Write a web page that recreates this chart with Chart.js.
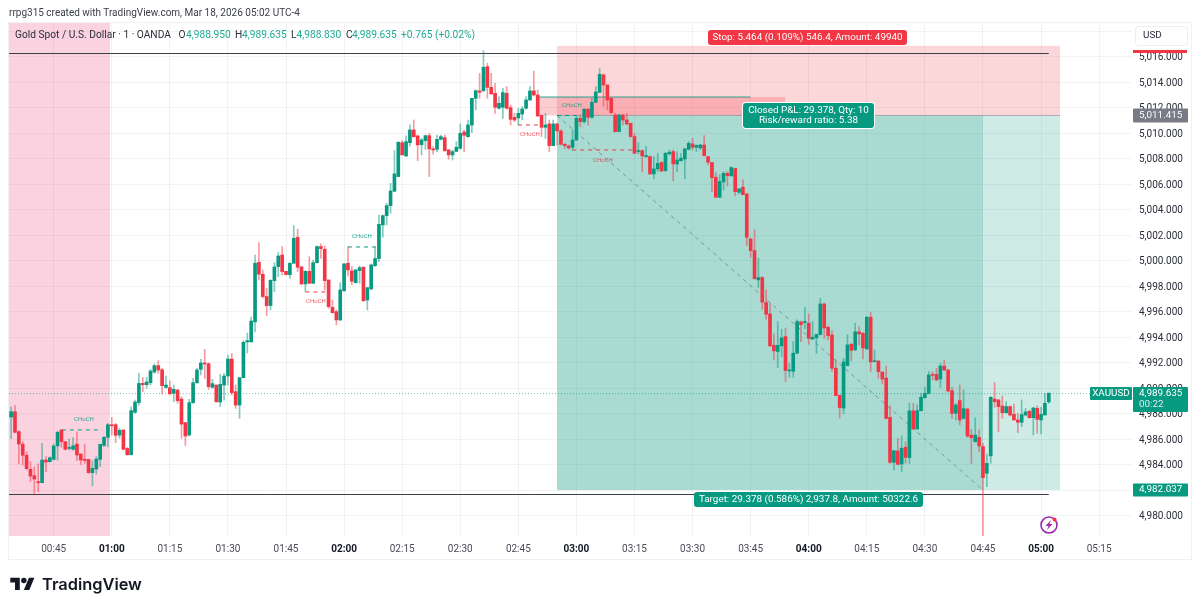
<!DOCTYPE html>
<html>
<head>
<meta charset="utf-8">
<title>Gold Spot / U.S. Dollar</title>
<script src="https://cdn.jsdelivr.net/npm/chart.js@4"></script>
<style>
  html, body { margin: 0; padding: 0; background: #fff; overflow: hidden; }
  #wrap { position: relative; width: 1200px; height: 609px; }
  #title { position: absolute; left: 9px; top: 7px; font: 10px Roboto, sans-serif; color: #3a3d46; white-space: nowrap; }
  #logo { position: absolute; left: 10px; top: 575px; }
  #brand { position: absolute; left: 42px; top: 574px; font: 600 16.4px Inter, sans-serif; color: #131722; }
</style>
</head>
<body>
<div id="wrap">
  <canvas id="chart" width="1200" height="609"></canvas>
  <div id="title">rrpg315 created with TradingView.com, Mar 18, 2026 05:02 UTC-4</div>
  <svg id="logo" width="25" height="19" viewBox="0 0 36 28"><path fill="#131722" d="M14 22H7V11H0V4h14v18zM28 22h-8l7.5-18h8L28 22z"/><circle fill="#131722" cx="20" cy="8" r="4"/></svg>
  <div id="brand">TradingView</div>
</div>
<script>
const firstMinute = 34; // 00:34, one bar a minute
const opens = [
  4987.76,4988.18,4986.61,4985.64,4984.76,4983.66,4983.16,4982.66,4982.61,4984.39,
  4984.26,4984.44,4985.49,4986.74,4985.83,4985.30,4985.23,4985.64,4984.86,4984.44,
  4984.44,4983.40,4983.68,4984.44,4985.54,4986.17,4987.13,4987.16,4986.35,4986.74,
  4985.30,4984.81,4988.13,4988.89,4990.40,4990.30,4990.45,4991.29,4991.79,4991.47,
  4990.09,4990.06,4989.62,4989.88,4989.17,4987.32,4986.35,4988.89,4990.45,4991.50,
  4991.97,4991.94,4990.09,4990.27,4988.94,4990.27,4990.98,4992.31,4989.75,4988.70,
  4990.85,4993.65,4993.65,4995.22,4999.90,4998.96,4997.21,4996.50,4998.46,4999.56,
  5000.47,4999.19,4998.93,4999.82,5001.86,4999.53,4998.20,4999.19,4998.25,4999.87,
  5001.13,5000.92,4998.51,4996.37,4996.03,4995.38,4997.68,4999.82,4999.22,4998.30,
  4999.25,4999.51,4996.94,4997.81,4999.64,5000.19,5002.83,5003.56,5004.34,5005.47,
  5006.62,5009.28,5008.24,5009.28,5010.28,5009.81,5009.13,5009.44,5009.83,5008.79,
  5008.76,5009.54,5009.67,5008.71,5008.32,5008.60,5008.84,5010.12,5009.75,5010.67,
  5012.76,5013.34,5013.36,5015.24,5013.62,5013.15,5011.98,5012.06,5013.15,5012.03,
  5011.27,5011.22,5011.53,5011.98,5012.63,5013.34,5013.02,5011.43,5010.49,5010.75,
  5009.05,5010.75,5010.20,5009.15,5009.02,5008.92,5009.49,5011.19,5010.93,5011.90,
  5011.27,5012.45,5013.23,5014.59,5013.81,5012.76,5011.45,5010.15,5011.45,5011.06,
  5010.80,5009.76,5008.58,5008.66,5008.19,5008.19,5006.83,5007.22,5007.72,5007.09,
  5008.40,5008.58,5007.61,5007.87,5008.00,5008.76,5009.18,5008.92,5008.87,5009.10,
  5008.19,5007.72,5006.57,5005.00,5006.20,5006.88,5006.67,5007.25,5005.39,5005.78,
  5005.26,5001.73,5000.82,4998.52,4998.70,4996.74,4995.85,4993.39,4992.90,4993.34,
  4994.07,4991.38,4991.35,4992.77,4995.22,4995.17,4995.12,4993.89,4993.97,4994.23,
  4996.63,4994.80,4994.20,4991.59,4989.47,4988.46,4991.80,4993.47,4993.03,4994.44,
  4994.33,4993.10,4995.59,4992.10,4992.16,4991.29,4990.82,4987.74,4984.21,4985.10,
  4984.08,4985.39,4984.58,4988.24,4986.82,4988.26,4989.28,4989.62,4991.11,4991.11,
  4990.74,4991.76,4991.45,4989.83,4988.05,4989.05,4987.66,4988.39,4986.33,4985.83,
  4986.17,4985.44,4983.35,4984.71,4989.18,4989.10,4988.63,4988.10,4988.58,4987.97,
  4987.53,4987.35,4987.92,4988.21,4987.71,4988.44,4987.53,4987.92,4988.95
];
const highs = [
  4988.57,4988.65,4986.69,4985.83,4985.04,4984.26,4983.87,4984.08,4985.70,4984.65,
  4984.65,4985.64,4986.66,4986.79,4985.83,4986.04,4986.14,4986.61,4984.86,4985.64,
  4984.44,4984.34,4984.65,4985.64,4986.22,4987.26,4987.74,4987.26,4986.87,4986.79,
  4985.38,4988.57,4989.09,4991.19,4990.87,4990.87,4991.50,4991.92,4992.18,4991.58,
  4990.98,4990.61,4990.27,4989.93,4989.36,4987.32,4989.15,4990.79,4991.58,4992.28,
  4993.07,4992.02,4990.72,4990.27,4991.11,4991.19,4992.62,4992.75,4990.27,4990.85,
  4993.75,4994.35,4995.61,5000.47,5001.44,4999.30,4997.86,4998.51,4999.87,5000.66,
  5001.13,4999.19,4999.87,5002.77,5002.49,4999.61,4999.25,5000.34,5000.08,5001.18,
  5001.34,5001.18,4998.51,4996.94,4996.16,4998.30,4999.82,5001.13,4999.56,4999.35,
  4999.61,4999.56,4997.91,4999.77,5001.07,5003.61,5003.61,5004.52,5006.09,5008.66,
  5009.36,5009.44,5009.81,5010.67,5011.06,5009.88,5009.62,5009.88,5010.01,5008.97,
  5009.88,5009.88,5009.88,5008.76,5008.71,5009.36,5010.75,5010.28,5011.06,5012.76,
  5013.41,5014.72,5016.50,5015.51,5014.72,5013.94,5012.89,5013.55,5013.68,5012.24,
  5011.58,5011.98,5012.11,5012.89,5013.68,5014.90,5013.41,5011.45,5011.58,5011.06,
  5011.06,5010.80,5010.28,5009.23,5009.10,5010.28,5011.38,5011.45,5011.98,5011.98,
  5012.76,5013.68,5015.11,5014.67,5013.81,5012.81,5011.58,5011.50,5011.53,5011.58,
  5010.80,5010.02,5009.28,5008.71,5008.97,5008.24,5008.19,5008.45,5007.80,5008.50,
  5008.71,5008.71,5008.58,5008.45,5008.84,5009.36,5009.62,5009.10,5009.15,5009.84,
  5008.19,5007.72,5006.96,5006.75,5007.01,5007.01,5007.40,5007.28,5005.70,5006.36,
  5005.31,5001.78,5002.44,5000.22,4998.78,4997.73,4996.69,4994.28,4995.25,4994.65,
  4994.73,4991.98,4993.68,4995.38,4995.28,4996.37,4995.85,4995.25,4994.28,4997.08,
  4996.69,4994.91,4994.54,4992.24,4989.47,4992.37,4994.20,4993.55,4995.12,4994.86,
  4994.39,4995.64,4995.96,4993.02,4992.16,4991.29,4991.76,4988.63,4985.12,4986.09,
  4986.27,4985.83,4988.84,4988.84,4988.71,4989.62,4990.09,4991.32,4991.32,4991.58,
  4991.97,4992.23,4991.50,4990.09,4988.84,4990.27,4989.88,4988.44,4986.80,4987.71,
  4986.75,4985.70,4984.86,4989.36,4990.46,4989.15,4989.41,4988.97,4988.63,4988.78,
  4988.05,4989.10,4988.44,4988.31,4988.52,4988.63,4988.52,4989.62,4989.635
];
const lows = [
  4986.09,4986.53,4984.08,4984.00,4983.66,4982.69,4981.78,4981.91,4982.61,4983.47,
  4984.23,4984.39,4984.39,4985.38,4985.17,4985.17,4985.17,4984.34,4984.05,4984.13,
  4983.34,4982.38,4983.29,4983.87,4985.44,4985.44,4986.35,4985.75,4986.09,4985.17,
  4984.76,4984.78,4988.05,4988.70,4989.75,4990.01,4990.27,4991.19,4991.19,4989.57,
  4990.01,4989.49,4988.96,4988.83,4986.09,4985.51,4986.27,4988.83,4990.40,4991.06,
  4990.79,4989.93,4990.01,4988.91,4988.57,4989.09,4990.27,4989.49,4988.44,4987.66,
  4990.85,4992.78,4993.65,4994.43,4998.51,4997.08,4995.72,4996.16,4997.60,4998.77,
  4998.90,4998.90,4998.64,4999.82,4999.17,4998.12,4997.60,4998.25,4998.25,4999.82,
  5000.21,4997.73,4996.29,4995.90,4994.98,4995.32,4997.60,4998.83,4998.15,4998.25,
  4998.25,4996.81,4996.16,4997.73,4999.56,4999.95,5001.86,5002.83,5003.74,5005.44,
  5006.62,5008.32,5008.19,5009.02,5009.70,5007.87,5008.32,5008.76,5006.62,5008.37,
  5008.58,5009.49,5008.58,5007.98,5007.92,5008.58,5008.76,5008.58,5009.70,5010.07,
  5011.85,5012.76,5013.28,5012.76,5013.10,5011.58,5011.90,5011.19,5011.90,5010.67,
  5010.93,5010.67,5011.06,5011.90,5012.58,5012.94,5011.32,5009.76,5009.62,5008.58,
  5009.05,5009.10,5009.10,5008.84,5008.76,5008.71,5009.44,5010.54,5010.80,5010.67,
  5011.19,5012.42,5013.21,5012.16,5011.85,5011.58,5010.10,5010.15,5010.67,5010.67,
  5009.70,5008.40,5008.40,5007.01,5008.13,5006.78,5006.44,5007.01,5007.01,5007.01,
  5008.32,5006.30,5007.01,5007.80,5006.44,5008.71,5008.71,5008.58,5008.71,5008.24,
  5007.54,5005.44,5004.97,5004.97,5005.57,5005.89,5006.67,5005.10,5005.26,5005.18,
  5001.21,5000.29,4998.60,4997.92,4996.22,4995.43,4993.29,4992.24,4991.64,4992.50,
  4990.54,4990.88,4990.88,4992.72,4993.68,4994.67,4993.47,4993.86,4992.77,4994.20,
  4993.94,4993.81,4991.33,4989.42,4987.67,4988.01,4991.77,4992.16,4992.98,4993.42,
  4992.32,4993.08,4991.33,4992.10,4990.80,4990.35,4987.61,4984.13,4983.61,4984.00,
  4983.48,4984.13,4984.13,4986.80,4986.80,4988.24,4989.23,4989.57,4990.67,4990.61,
  4990.09,4991.40,4989.75,4987.66,4987.53,4987.14,4987.61,4986.17,4984.13,4985.78,
  4985.05,4978.43,4982.30,4984.13,4988.52,4986.61,4987.66,4988.05,4987.84,4987.53,
  4986.54,4987.01,4987.84,4987.66,4986.35,4986.48,4986.43,4987.92,4988.83
];
const closes = [
  4988.18,4986.56,4985.64,4984.76,4983.71,4983.13,4982.90,4982.61,4984.39,4984.23,
  4984.57,4985.49,4986.56,4985.83,4985.23,4985.38,4985.51,4984.78,4984.39,4984.36,
  4983.40,4983.74,4984.47,4985.62,4986.17,4987.16,4987.08,4986.32,4986.72,4985.23,
  4984.81,4988.26,4988.94,4990.40,4990.30,4990.51,4991.37,4991.79,4991.45,4990.22,
  4990.27,4989.59,4989.93,4989.04,4987.21,4986.27,4988.89,4990.45,4991.45,4992.00,
  4991.92,4990.14,4990.38,4988.96,4990.32,4990.98,4992.31,4989.67,4988.70,4990.85,
  4993.62,4993.75,4995.29,4999.82,4998.96,4997.21,4996.50,4998.49,4999.53,5000.39,
  4999.17,4998.93,4999.82,5001.78,4999.51,4998.20,4999.19,4998.25,4999.87,5001.13,
  5000.97,4998.46,4996.42,4995.95,4995.38,4997.73,4999.77,4999.30,4998.41,4999.30,
  4999.48,4996.89,4997.91,4999.69,5000.19,5002.88,5003.56,5004.34,5005.49,5006.83,
  5009.31,5008.32,5009.36,5010.28,5009.75,5009.10,5009.49,5009.83,5008.79,5008.71,
  5009.54,5009.75,5008.66,5008.32,5008.58,5008.92,5010.01,5009.86,5010.67,5012.76,
  5013.36,5013.23,5015.19,5013.62,5013.10,5012.06,5012.37,5013.21,5011.98,5011.11,
  5011.06,5011.58,5011.92,5012.63,5013.34,5013.02,5011.38,5010.49,5010.67,5009.05,
  5010.75,5010.20,5009.15,5009.05,5008.87,5009.49,5011.19,5010.93,5011.90,5011.27,
  5012.45,5013.26,5014.64,5013.81,5012.63,5011.64,5010.15,5011.45,5011.06,5010.75,
  5009.76,5008.45,5008.66,5008.24,5008.24,5006.83,5007.22,5007.66,5007.06,5008.45,
  5008.53,5007.61,5007.92,5008.06,5008.79,5009.23,5008.92,5009.07,5009.10,5008.27,
  5007.74,5006.54,5005.00,5006.23,5006.88,5006.70,5007.33,5005.44,5005.65,5005.21,
  5001.86,5000.82,4998.60,4998.70,4996.77,4995.82,4993.34,4992.95,4993.39,4993.97,
  4991.41,4991.46,4992.77,4995.25,4995.01,4995.22,4993.94,4994.02,4994.23,4996.63,
  4994.75,4994.15,4991.59,4989.45,4988.51,4992.09,4993.42,4993.00,4994.44,4994.28,
  4993.18,4995.59,4992.09,4992.16,4991.32,4990.74,4987.66,4984.21,4985.12,4984.05,
  4985.31,4984.60,4988.24,4986.82,4988.26,4989.31,4989.62,4991.06,4991.03,4990.67,
  4991.76,4991.45,4989.80,4988.05,4988.71,4987.53,4988.42,4986.27,4986.14,4986.35,
  4985.49,4983.01,4984.13,4989.31,4988.97,4988.58,4988.10,4988.58,4987.92,4987.53,
  4987.35,4987.95,4988.16,4987.71,4988.47,4987.58,4987.97,4988.84,4989.635
];

const timeTicks = [45, 60, 75, 90, 105, 120, 135, 150, 165, 180, 195, 210, 225, 240, 255, 270, 285, 300, 315];
const timeLabels = ['00:45', '01:00', '01:15', '01:30', '01:45', '02:00', '02:15', '02:30', '02:45', '03:00', '03:15', '03:30', '03:45', '04:00', '04:15', '04:30', '04:45', '05:00', '05:15'];
const priceTicks = [4980, 4982, 4984, 4986, 4988, 4990, 4992, 4994, 4996, 4998, 5000, 5002, 5004, 5006, 5008, 5010, 5012, 5014, 5016, 5018];

const entryPrice = 5011.415;
const stopPrice = 5016.879;
const targetPrice = 4982.037;
const lastPrice = 4989.635;
const highLevel = 5016.3;
const lowLevel = 4981.7;

const GREEN = '#089981';
const RED = '#f23645';
const FONT = 'Roboto, sans-serif';

const minutes = opens.map((_, i) => firstMinute + i);
const isUp = opens.map((o, i) => closes[i] >= o);

// chart-area overlays, in chart units, painted from the scales
const overlays = {
  id: 'overlays',
  afterLayout(chart) {
    // price labels sit a pixel lower than the canvas "middle" baseline
    const yAxis = chart.scales.y;
    if (yAxis.shifted) return;
    yAxis.shifted = true;
    const drawLabels = yAxis.drawLabels;
    yAxis.drawLabels = function (area) {
      this.ctx.save();
      this.ctx.translate(0, 1);
      drawLabels.call(this, area);
      this.ctx.restore();
    };
  },
  beforeDatasetsDraw(chart) {
    const { ctx, chartArea: a, scales: { x, y } } = chart;
    const px = m => x.getPixelForValue(m);
    const py = v => y.getPixelForValue(v);
    const rect = (m0, m1, v0, v1, c) => {
      ctx.fillStyle = c;
      ctx.fillRect(px(m0), py(v0), px(m1) - px(m0), py(v1) - py(v0));
    };
    ctx.save();
    // pink session block
    ctx.fillStyle = 'rgba(233,30,99,0.2)';
    ctx.fillRect(a.left, a.top, px(59.5) - a.left, a.bottom - a.top);
    // risk / reward boxes
    rect(175, 304.9, stopPrice, entryPrice, 'rgba(242,54,69,0.2)');
    rect(175, 285, entryPrice, targetPrice, 'rgba(8,153,129,0.35)');
    rect(285, 304.9, entryPrice, targetPrice, 'rgba(8,153,129,0.2)');
    rect(170, 233.9, 5012.86, entryPrice, 'rgba(242,54,69,0.25)');
    ctx.fillStyle = 'rgba(8,153,129,0.45)';
    ctx.fillRect(px(170), py(5012.86) - 1, px(224.9) - px(170), 2);
    ctx.fillStyle = 'rgba(120,123,134,0.55)';
    ctx.fillRect(px(175), py(entryPrice) - 0.5, px(304.9) - px(175), 1);
    // trade path
    ctx.strokeStyle = 'rgba(90,100,110,0.6)';
    ctx.lineWidth = 1;
    ctx.setLineDash([4, 4]);
    ctx.beginPath();
    ctx.moveTo(px(175), py(entryPrice));
    ctx.lineTo(px(285), py(targetPrice));
    ctx.stroke();
    // last price
    ctx.strokeStyle = 'rgba(8,153,129,0.6)';
    ctx.setLineDash([1, 2]);
    ctx.beginPath();
    ctx.moveTo(a.left, py(lastPrice) + 0.5);
    ctx.lineTo(a.right, py(lastPrice) + 0.5);
    ctx.stroke();
    // high / low levels
    ctx.setLineDash([]);
    ctx.strokeStyle = '#3c3f47';
    [highLevel, lowLevel].forEach(v => {
      ctx.beginPath();
      ctx.moveTo(a.left, Math.round(py(v)) + 0.5);
      ctx.lineTo(px(302), Math.round(py(v)) + 0.5);
      ctx.stroke();
    });
    // CHoCH breaks
    ctx.setLineDash([4, 4]);
    [
      [47.1, 57.5, 4986.75, GREEN], [121, 128.7, 5001.1, GREEN], [110, 116, 4997.57, RED],
      [175, 180, entryPrice, GREEN], [164.9, 170.6, 5010.67, RED], [178.9, 194.4, 5008.71, RED]
    ].forEach(([m0, m1, v, c]) => {
      ctx.strokeStyle = c;
      ctx.beginPath();
      ctx.moveTo(px(m0), py(v));
      ctx.lineTo(px(m1), py(v));
      ctx.stroke();
    });
    ctx.restore();
  },
  afterDraw(chart) {
    const { ctx, chartArea: a, scales: { y } } = chart;
    const py = v => y.getPixelForValue(v);
    const text = (s, tx, ty, c, font, align) => {
      ctx.fillStyle = c;
      ctx.font = font || '9.9px ' + FONT;
      ctx.textAlign = align || 'left';
      ctx.textBaseline = 'middle';
      ctx.fillText(s, tx, ty + 1);
    };
    const box = (bx, by, w, h, c, r) => {
      ctx.fillStyle = c;
      ctx.beginPath();
      ctx.roundRect(bx, by, w, h, r === undefined ? 2 : r);
      ctx.fill();
    };
    ctx.save();

    // CHoCH labels
    const tiny = '6px ' + FONT;
    text('CHoCH', 84, 418, 'rgba(8,153,129,0.85)', tiny, 'center');
    text('CHoCH', 362, 235, 'rgba(8,153,129,0.85)', tiny, 'center');
    text('CHoCH', 572, 104, 'rgba(8,153,129,0.85)', tiny, 'center');
    text('CHoCH', 316, 300, 'rgba(242,54,69,0.85)', tiny, 'center');
    text('CHoCH', 530, 133, 'rgba(242,54,69,0.85)', tiny, 'center');
    text('CHoCH', 603, 159, 'rgba(242,54,69,0.85)', tiny, 'center');

    // symbol legend
    const dark = '#2a2e39';
    const legendFont = '10.2px ' + FONT;
    text('Gold Spot / U.S. Dollar · 1 · OANDA', 15, 34.5, dark, legendFont);
    [
      ['O', 178.5, '4,988.950', 186], ['H', 235, '4,989.635', 242],
      ['L', 291, '4,988.830', 296.5], ['C', 346, '4,989.635', 352]
    ].forEach(([k, kx, val, vx]) => {
      text(k, kx, 34.5, dark, legendFont);
      text(val, vx, 34.5, '#22ab94', legendFont);
    });
    text('+0.765 (+0.02%)', 401, 34.5, '#22ab94', legendFont);

    // trade labels
    box(708, 30, 199, 15, RED, 3);
    text('Stop: 5.464 (0.109%) 546.4, Amount: 49940', 807.5, 37, '#fff', null, 'center');
    box(694, 492, 229, 15, GREEN, 3);
    text('Target: 29.378 (0.586%) 2,937.8, Amount: 50322.6', 808.5, 498.5, '#fff', null, 'center');
    box(742, 102, 133, 27, '#fff', 4);
    box(743, 103, 131, 25, GREEN, 3);
    text('Closed P&L: 29.378, Qty: 10', 808.5, 109.5, '#fff', null, 'center');
    text('Risk/reward ratio: 5.38', 808.5, 120, '#fff', null, 'center');

    // price scale labels
    box(1135, 26, 53, 20, '#fff', 3);
    ctx.strokeStyle = '#eceef2';
    ctx.beginPath();
    ctx.roundRect(1135.5, 26.5, 52, 19, 3);
    ctx.stroke();
    text('USD', 1143, 35, dark);
    ctx.fillStyle = RED;
    ctx.fillRect(1133, 50, 54, 3);
    const lab = a.right + 7;
    box(a.right + 1, py(entryPrice) - 7, 55, 14, '#787b86', 1);
    text('5,011.415', lab, py(entryPrice) - 1, '#fff');
    box(a.right + 1, py(targetPrice) - 6.5, 55, 13, GREEN, 1);
    text('4,982.037', lab, py(targetPrice) - 1, '#fff');
    box(1090, 387, 42, 13, GREEN, 1);
    text('XAUUSD', 1111, 392.5, '#fff', null, 'center');
    box(a.right + 1, 387, 55, 25, GREEN, 1);
    text('4,989.635', lab, 392.5, '#fff');
    text('00:22', lab, 404, 'rgba(255,255,255,0.85)');

    // panel frame
    ctx.strokeStyle = '#f0f1f4';
    ctx.lineWidth = 1;
    ctx.strokeRect(8.5, 22.5, 1183, 537);

    // alert badge
    ctx.strokeStyle = '#9c27b0';
    ctx.lineWidth = 1.6;
    ctx.beginPath();
    ctx.arc(1049, 525, 8, 0, Math.PI * 2);
    ctx.stroke();
    ctx.fillStyle = '#9c27b0';
    ctx.beginPath();
    ctx.moveTo(1051, 520);
    ctx.lineTo(1045.5, 526);
    ctx.lineTo(1048.6, 526);
    ctx.lineTo(1047, 530);
    ctx.lineTo(1052.5, 524);
    ctx.lineTo(1049.4, 524);
    ctx.closePath();
    ctx.fill();
    ctx.fillStyle = '#f23645';
    ctx.beginPath();
    ctx.arc(1054.5, 519.5, 2, 0, Math.PI * 2);
    ctx.fill();
    ctx.restore();
  }
};

new Chart(document.getElementById('chart'), {
  type: 'bar',
  data: {
    datasets: [
      {
        label: 'Wick',
        data: minutes.map((m, i) => ({ x: m, y: [lows[i], highs[i]] })),
        backgroundColor: isUp.map(up => up ? 'rgba(8,153,129,0.5)' : 'rgba(242,54,69,0.5)'),
        barThickness: 1,
        grouped: false,
        order: 2,
      },
      {
        label: 'XAUUSD',
        data: minutes.map((m, i) => ({ x: m, y: [opens[i], closes[i]] })),
        backgroundColor: isUp.map(up => up ? GREEN : RED),
        barThickness: 3,
        minBarLength: 1,
        grouped: false,
        order: 1,
      },
    ],
  },
  options: {
    responsive: false,
    animation: false,
    devicePixelRatio: 1,
    layout: { padding: { left: 9, top: 22, right: 8, bottom: 50 } },
    plugins: { legend: { display: false }, tooltip: { enabled: false } },
    scales: {
      x: {
        type: 'linear',
        min: 33.456,
        max: 323.49,
        offset: false,
        afterFit(scale) { scale.height = 23; },
        afterBuildTicks(scale) { scale.ticks = timeTicks.map(value => ({ value })); },
        border: { display: false },
        grid: { color: 'rgba(42,46,57,0.06)', offset: false, drawTicks: false },
        ticks: {
          autoSkip: false,
          maxRotation: 0,
          padding: 7,
          color: ctx => ctx.tick && ctx.tick.value % 60 === 0 ? '#131722' : '#4a4d57',
          font: ctx => ({
            family: FONT,
            size: 10,
            weight: ctx.tick && ctx.tick.value % 60 === 0 ? '700' : '400',
          }),
          callback: value => timeLabels[timeTicks.indexOf(value)],
        },
      },
      y: {
        position: 'right',
        min: 4978.43,
        max: 5018.745,
        afterFit(scale) { scale.width = 60; },
        afterBuildTicks(scale) { scale.ticks = priceTicks.map(value => ({ value })); },
        border: { display: false },
        grid: { color: 'rgba(42,46,57,0.06)', drawTicks: false },
        ticks: {
          padding: 7,
          color: '#2a2e39',
          font: { family: FONT, size: 10 },
          callback: value => value.toLocaleString('en-US', { minimumFractionDigits: 3 }),
        },
      },
    },
  },
  plugins: [overlays],
});
</script>
</body>
</html>
